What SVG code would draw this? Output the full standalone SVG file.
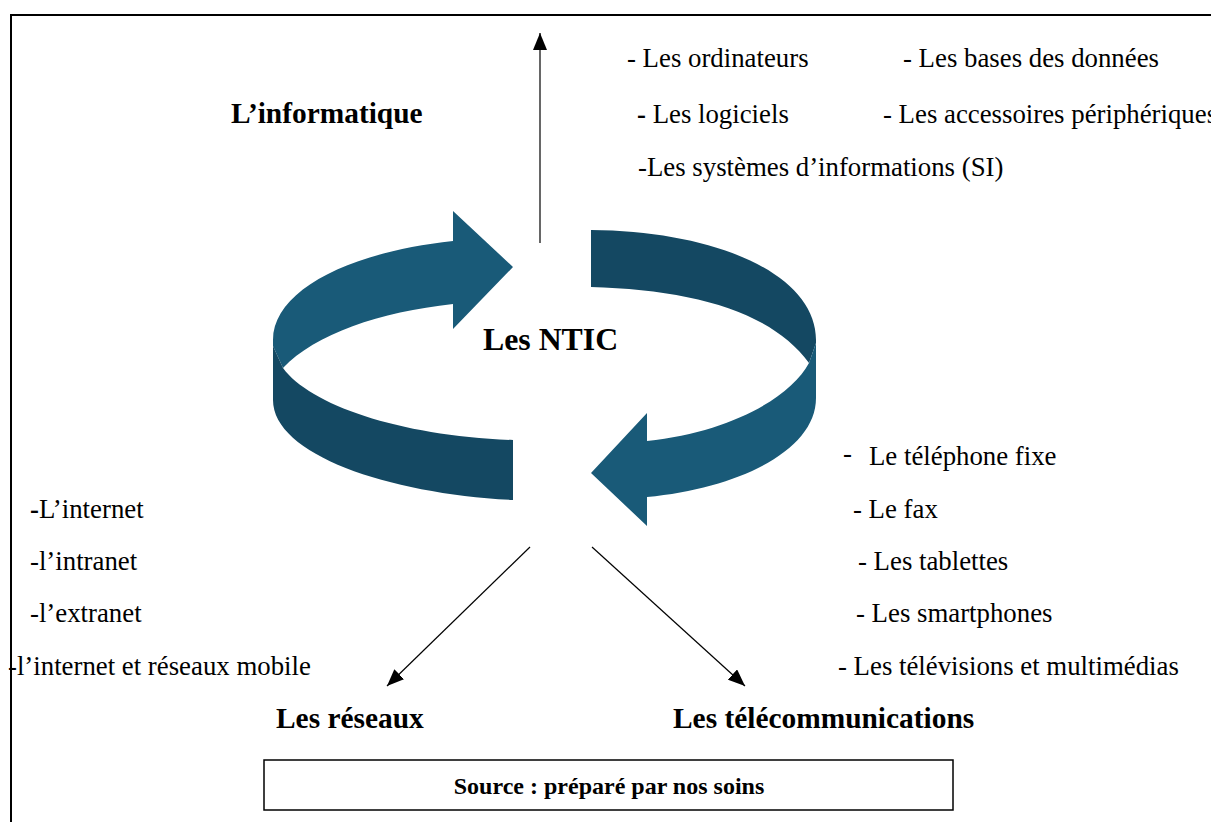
<svg xmlns="http://www.w3.org/2000/svg" width="1211" height="822" viewBox="0 0 1211 822">
<style>
.body{font-family:"Liberation Serif","Times New Roman",serif;font-size:26.8px;fill:#000}
.head{font-family:"Liberation Serif","Times New Roman",serif;font-size:29.4px;font-weight:bold;fill:#000}
.light{fill:#195a78}
.dark{fill:#144862}
.conn{stroke:#000;stroke-width:1.2;fill:none;marker-end:url(#ah)}
</style>
<defs>
<marker id="ah" markerUnits="userSpaceOnUse" markerWidth="18" markerHeight="14" refX="17" refY="7" orient="auto">
<path d="M0,0 L17,7 L0,14 z" fill="#000"/>
</marker>
</defs>
<rect width="1211" height="822" fill="#fff"/>
<path d="M11,823 L11,15 L1212,15" fill="none" stroke="#000" stroke-width="2"/>

<g id="cycle">
<path class="light" d="M273,346 L273,340 C273,290 350,252 453,241 L453,211 L513,267 L453,329 L453,304 C380,312 315,334 283,368 Z"/>
<path class="dark" d="M273,346 L283,368 C310,405 400,436 513,440 L513,500 C390,494 273,455 273,400 Z"/>
<path class="dark" d="M591,230 C720,231 816,276 816,340 L816,343 L809,363 C770,310 690,290 591,287 Z"/>
<path class="light" d="M816,343 L816,398 C816,450 740,488 647,497 L647,526 L591,473 L647,413 L647,441 C730,432 790,398 809,363 Z"/>
</g>

<g id="connectors">
<line class="conn" x1="540" y1="243" x2="540" y2="33"/>
<line class="conn" x1="530" y1="547" x2="387" y2="686"/>
<line class="conn" x1="592" y1="547" x2="745" y2="686"/>
</g>

<g id="ntic"><text class="head" x="483" y="350" style="font-size:31.8px">Les NTIC</text></g>

<g id="informatique">
<text class="head" x="231" y="123">L’informatique</text>
<text class="body" x="627" y="67">- Les ordinateurs</text>
<text class="body" x="903" y="67">- Les bases des données</text>
<text class="body" x="637" y="123"><tspan font-weight="bold">-</tspan> Les logiciels</text>
<text class="body" x="883" y="123">- Les accessoires périphériques</text>
<text class="body" x="638" y="176">-Les systèmes d’informations (SI)</text>
</g>

<g id="reseaux">
<text class="head" x="276" y="728">Les réseaux</text>
<text class="body" x="30" y="518"><tspan font-weight="bold">-</tspan>L’internet</text>
<text class="body" x="30" y="570">-l’intranet</text>
<text class="body" x="30" y="622">-l’extranet</text>
<text class="body" x="8" y="675">-l’internet et réseaux mobile</text>
</g>

<g id="telecom">
<text class="head" x="673" y="728">Les télécommunications</text>
<text class="body" x="843" y="462">-</text>
<text class="body" x="869" y="465">Le téléphone fixe</text>
<text class="body" x="853" y="518">- Le fax</text>
<text class="body" x="858" y="570">- Les tablettes</text>
<text class="body" x="856" y="622">- Les smartphones</text>
<text class="body" x="838" y="675">- Les télévisions et multimédias</text>
</g>

<g id="source">
<rect x="264" y="760" width="689" height="50" fill="#fff" stroke="#000" stroke-width="1.5"/>
<text x="609" y="794" text-anchor="middle" style="font-family:'Liberation Serif','Times New Roman',serif;font-size:24px;font-weight:bold">Source : préparé par nos soins</text>
</g>
</svg>
